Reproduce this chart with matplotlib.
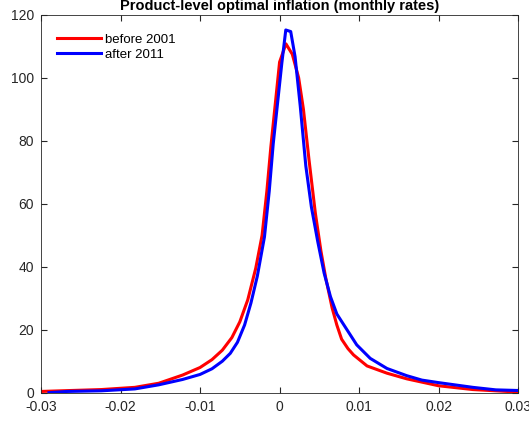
import numpy as np
import matplotlib
matplotlib.use("Agg")
import matplotlib.pyplot as plt

plt.rcParams['font.family'] = ['Liberation Sans', 'DejaVu Sans']

# before 2001
x_before = [-0.03, -0.0224, -0.0182, -0.0152, -0.0122, -0.01, -0.0085, -0.0072,
            -0.006, -0.005, -0.004, -0.003, -0.0022, -0.0016, -0.0011,
            -0.00055, 0.0, 0.0008, 0.0016, 0.0024, 0.003, 0.0037, 0.0045,
            0.0052, 0.0058, 0.0066, 0.0072, 0.0078, 0.0086, 0.0093, 0.011,
            0.0135, 0.016, 0.02, 0.0243, 0.03]
y_before = [0.4, 1.0, 1.7, 3.0, 5.6, 8.0, 10.5, 13.5,
            17.5, 22.5, 29.5, 39.5, 50.0, 64.0, 78.0,
            91.5, 105.0, 110.8, 107.5, 100.0, 90.0, 74.0, 57.0,
            45.0, 36.5, 27.0, 21.5, 17.0, 14.0, 12.0, 8.5,
            6.2, 4.4, 2.2, 1.0, 0.2]

# after 2011
x_after = [-0.029, -0.0267, -0.0224, -0.0182, -0.0152, -0.0122, -0.01, -0.0085,
           -0.0072, -0.0062, -0.0053, -0.0044, -0.0036, -0.0028, -0.0019,
           -0.0013, -0.0008, 0.00028, 0.00078, 0.0014, 0.00195, 0.0026, 0.0033,
           0.004, 0.0048, 0.0056, 0.0064, 0.0072, 0.0085, 0.0097, 0.0114,
           0.0135, 0.016, 0.0179, 0.02, 0.0243, 0.0272, 0.03]
y_after = [0.0, 0.4, 0.6, 1.2, 2.5, 4.2, 5.8, 7.6,
           10.0, 12.5, 16.0, 21.5, 28.5, 37.0, 49.5,
           64.0, 79.0, 104.6, 115.2, 114.7, 106.7, 91.0, 72.0,
           59.0, 48.0, 38.0, 30.5, 25.0, 19.9, 15.2, 10.9,
           7.7, 5.4, 4.0, 3.2, 1.7, 0.9, 0.7]

xticks = [-0.03, -0.02, -0.01, 0, 0.01, 0.02, 0.03]
xtick_labels = ['-0.03', '-0.02', '-0.01', '0', '0.01', '0.02', '0.03']
yticks = [0, 20, 40, 60, 80, 100, 120]

fig = plt.figure(figsize=(5.29, 4.25), dpi=100)
ax = fig.add_axes([0.0775, 0.076, 0.902, 0.889])

ax.plot(x_before, y_before, color='red', lw=2.2, label='before 2001')
ax.plot(x_after, y_after, color='blue', lw=2.2, label='after 2011')

ax.set_xlim(-0.03, 0.03)
ax.set_ylim(0, 120)
ax.set_xticks(xticks)
ax.set_xticklabels(xtick_labels)
ax.set_yticks(yticks)
ax.tick_params(direction='in', top=True, right=True, length=4,
               labelsize=10, colors='#262626', pad=5)
for s in ax.spines.values():
    s.set_color('#262626')
    s.set_linewidth(0.6)

ax.legend(loc='upper left', bbox_to_anchor=(0.034, 0.951), frameon=False,
          fontsize=9.5, handlelength=3.3, handletextpad=0.3,
          labelspacing=0.21, borderpad=0, borderaxespad=0)

fig.text(279.5 / 529, 1 - 10 / 425, 'Product-level optimal inflation (monthly rates)',
         ha='center', va='baseline', fontsize=10.5, fontweight='bold')

fig.savefig('out.png', dpi=100)
